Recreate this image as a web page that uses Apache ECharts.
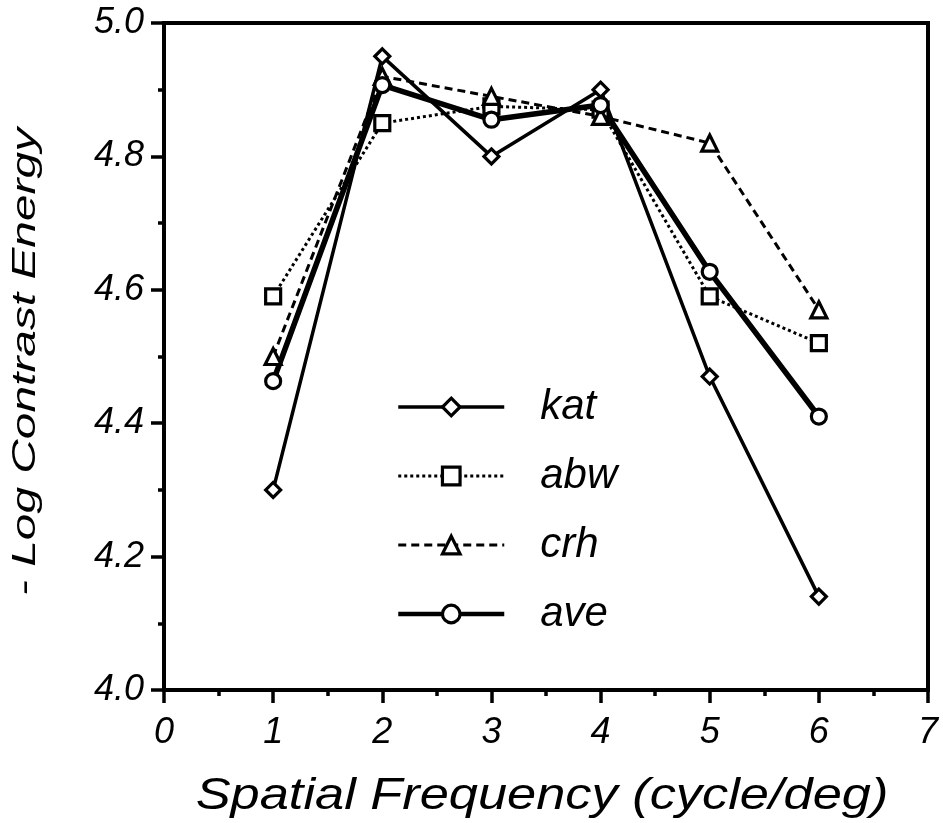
<!DOCTYPE html>
<html>
<head>
<meta charset="utf-8">
<script src="https://cdn.jsdelivr.net/npm/echarts@6/dist/echarts.min.js"></script>
<style>
  html, body { margin: 0; padding: 0; background: #fff; }
  #chart { width: 943px; height: 823px; }
</style>
</head>
<body>
<div id="chart"></div>
<script>
// Spatial frequency (cycle/deg) and -log contrast energy per observer
const frequencies = [1, 2, 3, 4, 5, 6];
const kat = [4.30, 4.95, 4.80, 4.90, 4.47, 4.14];
const abw = [4.59, 4.85, 4.875, 4.87, 4.59, 4.52];
const crh = [4.50, 4.92, 4.89, 4.86, 4.82, 4.57];
const ave = [4.463, 4.907, 4.855, 4.877, 4.627, 4.41];

const xTicks = { min: 0, max: 7, interval: 1 };
const yTicks = { min: 4.0, max: 5.0, interval: 0.2 };

const FONT = "'Liberation Sans', Arial, Helvetica, sans-serif";

// line style per observer: [symbol, symbol size, line width, dash]
const styles = {
  kat: ['diamond', 15, 3.5, 'solid'],
  abw: ['rect', 15, 3, [3, 3]],
  crh: ['triangle', 16, 3, [8, 5]],
  ave: ['circle', 15, 5.5, 'solid']
};

function pairs(values) {
  return frequencies.map((f, i) => [f, values[i]]);
}

const markerStyle = { color: '#fff', borderColor: '#000', borderWidth: 3.2 };

function lineSeries(name, values) {
  const s = styles[name];
  return {
    name: name,
    type: 'line',
    data: pairs(values),
    symbol: s[0],
    symbolSize: s[1],
    showAllSymbol: true,
    lineStyle: { color: '#000', width: s[2], type: s[3] },
    itemStyle: markerStyle,
    emphasis: { disabled: true }
  };
}

function legendItem(name) {
  const s = styles[name];
  return {
    name: name,
    lineStyle: { color: '#000', width: Math.min(s[2], 4.5), type: s[3] },
    itemStyle: markerStyle
  };
}

const chart = echarts.init(document.getElementById('chart'), null, { renderer: 'canvas' });

const axisCommon = {
  axisLine: { show: true, onZero: false, lineStyle: { color: '#000', width: 4 } },
  axisTick: { show: true, inside: false, length: 13, lineStyle: { color: '#000', width: 3.5 } },
  minorTick: { show: true, splitNumber: 2, length: 6, lineStyle: { color: '#000', width: 3.5 } },
  splitLine: { show: false },
  minorSplitLine: { show: false }
};

chart.setOption({
  animation: false,
  backgroundColor: '#fff',
  grid: {
    left: 164, right: 15, top: 23, bottom: 133,
    show: true, borderColor: '#000', borderWidth: 4, backgroundColor: 'transparent'
  },
  xAxis: Object.assign({
    type: 'value',
    min: xTicks.min, max: xTicks.max, interval: xTicks.interval,
    axisLabel: {
      color: '#000', fontSize: 36, fontStyle: 'italic', fontFamily: FONT, margin: 25
    }
  }, axisCommon),
  yAxis: Object.assign({
    type: 'value',
    min: yTicks.min, max: yTicks.max, interval: yTicks.interval,
    axisLabel: {
      color: '#000', fontSize: 36, fontStyle: 'italic', fontFamily: FONT, margin: 20,
      formatter: v => v.toFixed(1)
    }
  }, axisCommon),
  legend: {
    orient: 'vertical',
    left: 396, top: 386,
    padding: 0,
    itemWidth: 106, itemHeight: 22, itemGap: 27,
    selectedMode: false,
    textStyle: {
      color: '#000', fontSize: 42, lineHeight: 42, fontStyle: 'italic', fontFamily: FONT,
      padding: [0, 0, 0, 31]
    },
    data: ['kat', 'abw', 'crh', 'ave'].map(legendItem)
  },
  graphic: [
    {
      type: 'text', x: 26, y: 362, rotation: Math.PI / 2, scaleX: 1.45,
      style: {
        text: '- Log Contrast Energy', fontSize: 33, fontStyle: 'italic', fontFamily: FONT,
        fill: '#000', align: 'center', verticalAlign: 'middle'
      }
    },
    {
      type: 'text', x: 542, y: 797, scaleX: 1.19,
      style: {
        text: 'Spatial Frequency (cycle/deg)', fontSize: 44, fontStyle: 'italic', fontFamily: FONT,
        fill: '#000', align: 'center', verticalAlign: 'middle'
      }
    }
  ],
  series: [
    lineSeries('kat', kat),
    lineSeries('abw', abw),
    lineSeries('crh', crh),
    lineSeries('ave', ave)
  ]
});
</script>
</body>
</html>
